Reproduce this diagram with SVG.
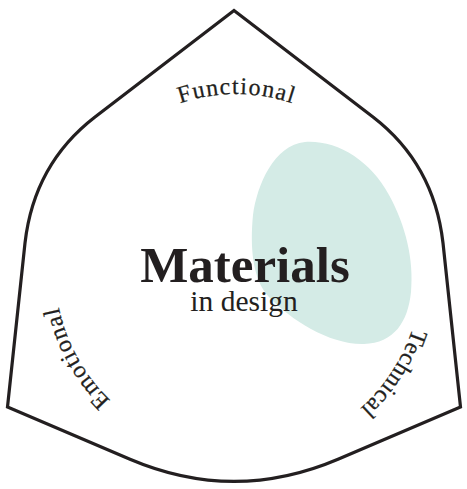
<svg xmlns="http://www.w3.org/2000/svg" width="467" height="489" viewBox="0 0 467 489">
  <style>
    .outline { fill: none; stroke: #231f20; stroke-width: 3.2; stroke-linejoin: miter; }
    .blob { fill: #d4ebe6; }
    .arc-label { font-family: "Liberation Serif", "Times New Roman", serif; font-size: 24px; fill: #231f20; stroke: #231f20; stroke-width: 0.25; }
    .title { font-family: "Liberation Serif", "Times New Roman", serif; font-weight: bold; font-size: 51px; fill: #231f20; }
    .subtitle { font-family: "Liberation Serif", "Times New Roman", serif; font-size: 29.5px; fill: #231f20; }
  </style>
  <defs>
    <!-- baseline arcs, all clockwise around (236,270) -->
    <path id="arc-functional" d="M 101.2,157.5 A 175 175 0 0 1 370.8,157.5"/>
    <path id="arc-technical" d="M 414.1,216.2 A 186 186 0 0 1 258.0,454.7"/>
    <path id="arc-emotional" d="M 201.5,447.7 A 181 181 0 0 1 67.0,205.1"/>
  </defs>

  <rect width="467" height="489" fill="#ffffff"/>

  <!-- soft highlight shape -->
  <path class="blob" d="M 305,142 C 337,140 370,160 389,195 C 406,226 414,260 411,292 C 408,322 394,343 364,344 C 330,345 291,320 269,297 C 252,279 250,246 253,215 C 257,185 274,145 305,142 Z"/>

  <!-- outer rounded-triangle frame -->
  <g id="frame">
    <path class="outline" d="M 234,10.5 L 95,117 Q 34,164 25,243 L 7.5,407 L 130,459.2 Q 234,503.5 338,459.2 L 460.5,407 L 443,243 Q 434,164 373,117 Z"/>
  </g>

  <g id="label-functional">
    <text class="arc-label"><textPath href="#arc-functional" startOffset="50%" text-anchor="middle" textLength="114" lengthAdjust="spacing">Functional</textPath></text>
  </g>
  <g id="label-technical">
    <text class="arc-label"><textPath href="#arc-technical" startOffset="50%" text-anchor="middle" textLength="97" lengthAdjust="spacing">Technical</textPath></text>
  </g>
  <g id="label-emotional">
    <text class="arc-label"><textPath href="#arc-emotional" startOffset="50%" text-anchor="middle" textLength="108" lengthAdjust="spacing">Emotional</textPath></text>
  </g>

  <g id="title">
    <text class="title" x="245" y="282" text-anchor="middle">Materials</text>
    <text class="subtitle" x="244" y="311" text-anchor="middle">in design</text>
  </g>
</svg>
